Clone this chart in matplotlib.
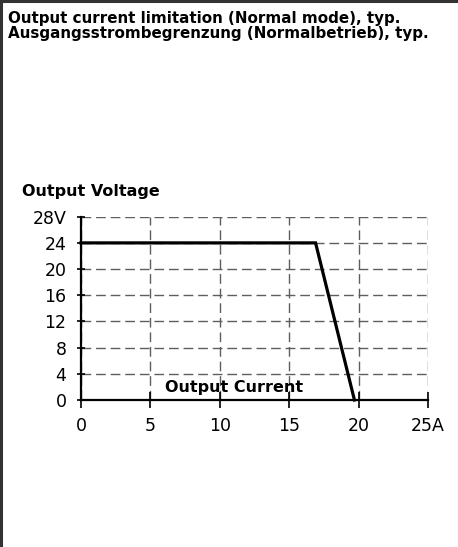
import matplotlib
matplotlib.use("Agg")
import matplotlib.pyplot as plt
from matplotlib.lines import Line2D

plt.rcParams['font.family'] = ['DejaVu Sans']

# Data
current = [0, 16.9, 19.7]
voltage = [24, 24, 0]
x_ticks = [0, 5, 10, 15, 20, 25]
x_labels = ['0', '5', '10', '15', '20', '25A']
y_ticks = [0, 4, 8, 12, 16, 20, 24, 28]
y_labels = ['0', '4', '8', '12', '16', '20', '24', '28V']
title_lines = ["Output current limitation (Normal mode), typ.",
               "Ausgangsstrombegrenzung (Normalbetrieb), typ."]

W, H = 458, 547
fig = plt.figure(figsize=(W/100, H/100), dpi=100)
fig.patch.set_facecolor('white')

# Figure border (left and top)
fig.add_artist(Line2D([1.2/W, 1.2/W], [0, 1], transform=fig.transFigure, color='#333333', lw=2.2))
fig.add_artist(Line2D([0, 1], [1-1.2/H, 1-1.2/H], transform=fig.transFigure, color='#333333', lw=2.2))

fig.text(8/W, 1-23.5/H, title_lines[0], fontsize=10.9, fontweight='bold', ha='left', va='baseline')
fig.text(8/W, 1-38/H, title_lines[1], fontsize=10.9, fontweight='bold', ha='left', va='baseline')

l, r = 81/W, 428/W
ax = fig.add_axes([l, 1-400/H, r-l, (400-216.7)/H])
ax.set_xlim(0, 25)
ax.set_ylim(0, 28)
ax.set_xticks(x_ticks)
ax.set_xticklabels(x_labels)
ax.set_yticks(y_ticks)
ax.set_yticklabels(y_labels)
ax.grid(True, color='#5e5e5e', lw=1.0, linestyle=(0, (7, 3.5)))
ax.set_axisbelow(True)
for s in ['top', 'right']:
    ax.spines[s].set_visible(False)
for s in ['left', 'bottom']:
    ax.spines[s].set_linewidth(1.6)
    ax.spines[s].set_color('black')
ax.tick_params(axis='y', direction='inout', length=6, width=1.2, labelsize=12.5, pad=7.5)
ax.tick_params(axis='x', direction='inout', length=11, width=1.2, labelsize=12.5, pad=6.5)

ax.plot(current, voltage, color='black', lw=2.3, solid_joinstyle='miter', clip_on=False, zorder=5)

ax.text(11.0, 1.27, "Output Current", fontsize=11.5, fontweight='bold', ha='center', va='baseline')
fig.text(22/W, 1-196/H, "Output Voltage", fontsize=11.5, fontweight='bold', ha='left', va='baseline')

fig.savefig('out.png', dpi=100, facecolor='white')
